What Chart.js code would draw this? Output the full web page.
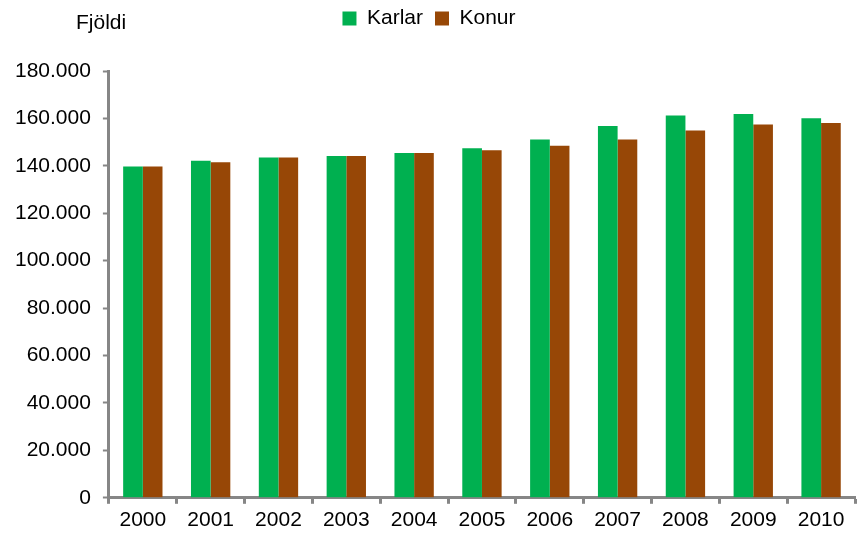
<!DOCTYPE html>
<html>
<head>
<meta charset="utf-8">
<script src="https://cdn.jsdelivr.net/npm/chart.js@4.4.0/dist/chart.umd.min.js"></script>
<style>
  html, body { margin: 0; padding: 0; background: #fff; }
  #wrap { width: 861px; height: 537px; }
</style>
</head>
<body>
<div id="wrap"><canvas id="myChart"></canvas></div>
<script>
const years = ["2000", "2001", "2002", "2003", "2004", "2005", "2006", "2007", "2008", "2009", "2010"]
const karlar = [139700, 142100, 143500, 144200, 145400, 147400, 151100, 156800, 161200, 161900, 160100]
const konur = [139700, 141500, 143500, 144200, 145400, 146600, 148500, 151100, 154900, 157400, 158100]
const yTitle = "Fjöldi"

// 180000 -> "180.000"
function fmt(v) {
  return String(v).replace(/\B(?=(\d{3})+(?!\d))/g, ".")
}

const axisGray = '#868686'
const font = { family: "'Liberation Sans', Arial, sans-serif", size: 21 }

// "Fjöldi" above the y axis
const yTitlePlugin = {
  id: 'yTitle',
  afterDraw(chart) {
    const c = chart.ctx
    c.save()
    c.font = "21px 'Liberation Sans', Arial, sans-serif"
    c.fillStyle = '#000'
    c.textBaseline = 'alphabetic'
    c.fillText(yTitle, 76, 29)
    c.restore()
  }
}

// push the plot down below the legend
const legendSpace = {
  id: 'legendSpace',
  beforeInit(chart) {
    const orig = chart.legend.fit
    chart.legend.fit = function () {
      orig.bind(chart.legend)()
      this.height += 32
    }
  }
}

const ctx = document.getElementById('myChart').getContext('2d')
const myChart = new Chart(ctx, {
  type: 'bar',
  data: {
    labels: years,
    datasets: [{
      label: 'Karlar',
      data: karlar,
      backgroundColor: '#00B050'
    }, {
      label: 'Konur',
      data: konur,
      backgroundColor: '#974706'
    }]
  },
  options: {
    responsive: true,
    maintainAspectRatio: false,
    animation: false,
    categoryPercentage: 0.58,
    barPercentage: 1,
    layout: { padding: { left: 3, right: 6, top: -4, bottom: 0 } },
    plugins: {
      tooltip: { enabled: false },
      legend: {
        position: 'top',
        labels: {
          color: '#000',
          font: font,
          boxWidth: 14,
          boxHeight: 14,
          padding: 12
        }
      }
    },
    scales: {
      x: {
        grid: {
          drawOnChartArea: false,
          drawTicks: true,
          tickLength: 6,
          tickWidth: 3,
          color: axisGray
        },
        border: { color: axisGray, width: 3 },
        ticks: { color: '#000', font: font, padding: 4, maxRotation: 0 }
      },
      y: {
        min: 0,
        max: 180000,
        grid: {
          drawOnChartArea: false,
          drawTicks: true,
          tickLength: 6,
          tickWidth: 2,
          color: axisGray
        },
        border: { color: axisGray, width: 3 },
        ticks: {
          stepSize: 20000,
          color: '#000',
          font: font,
          padding: 12,
          callback: v => fmt(v)
        }
      }
    }
  },
  plugins: [yTitlePlugin, legendSpace]
})
</script>
</body>
</html>
